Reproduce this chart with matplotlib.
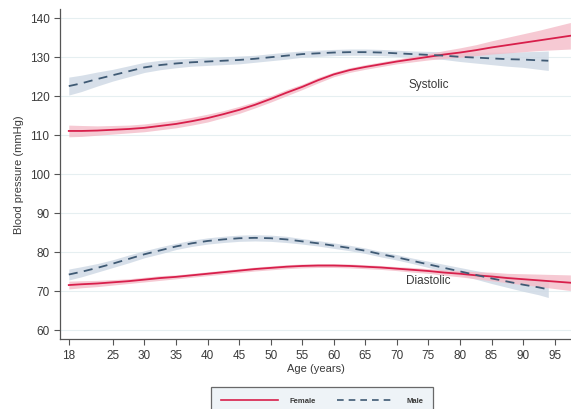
import matplotlib.pyplot as plt
from matplotlib.lines import Line2D

plt.rcParams['font.family'] = ['Liberation Sans', 'DejaVu Sans']

# ages for the smoothed curves (female curves run to the axis edge, male stop at 94)
age_f = [18, 20, 22.5, 25, 27.5, 30, 32.5, 35, 37.5, 40, 42.5, 45, 47.5, 50, 52.5, 55,
         57.5, 60, 62.5, 65, 67.5, 70, 72.5, 75, 77.5, 80, 82.5, 85, 87.5, 90, 92.5, 95, 97.5]
age_m = [18, 20, 22.5, 25, 27.5, 30, 32.5, 35, 37.5, 40, 42.5, 45, 47.5, 50, 52.5, 55,
         57.5, 60, 62.5, 65, 67.5, 70, 72.5, 75, 77.5, 80, 82.5, 85, 87.5, 90, 92.5, 94]

# systolic
sys_f = [111.0, 111.0, 111.1, 111.3, 111.5, 111.8, 112.3, 112.8, 113.5, 114.3, 115.3,
         116.4, 117.7, 119.2, 120.8, 122.3, 124.0, 125.5, 126.6, 127.4, 128.1, 128.8,
         129.4, 130.0, 130.6, 131.1, 131.7, 132.4, 133.0, 133.6, 134.2, 134.8, 135.4]
sys_f_ci = [1.5, 1.4, 1.2, 1.1, 1.0, 1.0, 1.0, 1.0, 1.0, 1.0, 0.9, 0.9, 0.8, 0.8, 0.8, 0.7,
            0.7, 0.6, 0.6, 0.6, 0.6, 0.6, 0.7, 0.8, 1.0, 1.2, 1.4, 1.7, 2.0, 2.3, 2.6, 3.0, 3.4]
sys_m = [122.5, 123.2, 124.3, 125.3, 126.3, 127.3, 127.9, 128.3, 128.6, 128.8, 129.0,
         129.2, 129.5, 129.9, 130.3, 130.7, 130.9, 131.1, 131.2, 131.2, 131.1, 130.9,
         130.7, 130.5, 130.3, 130.0, 129.8, 129.6, 129.4, 129.3, 129.1, 129.0]
sys_m_ci = [2.3, 2.1, 1.8, 1.5, 1.4, 1.3, 1.2, 1.1, 1.0, 1.0, 1.0, 1.0, 0.9, 0.9, 0.9, 0.8,
            0.8, 0.8, 0.8, 0.8, 0.8, 0.8, 0.8, 0.9, 1.0, 1.2, 1.4, 1.6, 1.8, 2.0, 2.3, 2.5]

# diastolic
dia_f = [71.5, 71.7, 71.9, 72.2, 72.5, 72.9, 73.3, 73.6, 74.0, 74.4, 74.8, 75.2, 75.6,
         75.9, 76.2, 76.4, 76.5, 76.5, 76.4, 76.2, 76.0, 75.7, 75.4, 75.1, 74.7, 74.4,
         74.0, 73.7, 73.3, 73.0, 72.7, 72.4, 72.1]
dia_f_ci = [1.0, 0.9, 0.8, 0.7, 0.6, 0.6, 0.6, 0.5, 0.5, 0.5, 0.5, 0.5, 0.5, 0.5, 0.5, 0.5,
            0.5, 0.5, 0.5, 0.5, 0.5, 0.5, 0.6, 0.6, 0.7, 0.8, 0.9, 1.1, 1.2, 1.4, 1.6, 1.8, 2.0]
dia_m = [74.2, 74.9, 75.9, 77.0, 78.2, 79.4, 80.4, 81.4, 82.2, 82.8, 83.2, 83.5, 83.6,
         83.5, 83.2, 82.7, 82.2, 81.6, 81.0, 80.3, 79.4, 78.6, 77.7, 76.8, 75.9, 75.0,
         74.1, 73.2, 72.4, 71.6, 70.9, 70.4]
dia_m_ci = [1.4, 1.3, 1.1, 1.0, 1.0, 0.9, 0.9, 0.8, 0.8, 0.8, 0.8, 0.8, 0.8, 0.8, 0.8, 0.7,
            0.7, 0.7, 0.7, 0.7, 0.7, 0.7, 0.7, 0.8, 0.9, 1.0, 1.1, 1.3, 1.5, 1.7, 1.9, 2.1]

x_ticks = [18, 25, 30, 35, 40, 45, 50, 55, 60, 65, 70, 75, 80, 85, 90, 95]
y_ticks = [60, 70, 80, 90, 100, 110, 120, 130, 140]

red = '#d81f4b'
red_band = '#f4bcc8'
blue = '#3f5a74'
blue_band = '#cdd8e4'
txt = '#3a3a3a'


def band(ax, x, y, ci, color):
    lo = [v - c for v, c in zip(y, ci)]
    hi = [v + c for v, c in zip(y, ci)]
    ax.fill_between(x, lo, hi, color=color, alpha=0.8, lw=0, zorder=2)


fig = plt.figure(figsize=(5.71, 4.10), dpi=100)
ax = fig.add_axes([0.105, 0.171, 0.895, 0.805])

band(ax, age_m, sys_m, sys_m_ci, blue_band)
band(ax, age_m, dia_m, dia_m_ci, blue_band)
band(ax, age_f, sys_f, sys_f_ci, red_band)
band(ax, age_f, dia_f, dia_f_ci, red_band)

ax.plot(age_f, sys_f, color=red, lw=1.3, zorder=3)
ax.plot(age_f, dia_f, color=red, lw=1.3, zorder=3)
ax.plot(age_m, sys_m, color=blue, lw=1.3, ls=(0, (5, 3.5)), zorder=4)
ax.plot(age_m, dia_m, color=blue, lw=1.3, ls=(0, (5, 3.5)), zorder=4)

ax.text(75, 123.1, 'Systolic', fontsize=8.5, color=txt, ha='center', va='center')
ax.text(75, 72.8, 'Diastolic', fontsize=8.5, color=txt, ha='center', va='center')

ax.set_xlim(16.6, 97.6)
ax.set_ylim(57.7, 142.3)
ax.set_xticks(x_ticks)
ax.set_yticks(y_ticks)
ax.tick_params(direction='out', length=4, width=0.8, colors='#555555',
               labelcolor=txt, labelsize=8.5)
ax.grid(axis='y', color='#e6eff1', lw=0.8)
ax.set_axisbelow(True)
for s in ['top', 'right']:
    ax.spines[s].set_visible(False)
for s in ['left', 'bottom']:
    ax.spines[s].set_color('#555555')
    ax.spines[s].set_linewidth(0.9)

ax.set_xlabel('Age (years)', fontsize=8, color=txt, labelpad=1)
ax.set_ylabel('Blood pressure (mmHg)', fontsize=8, color=txt, labelpad=4)

handles = [Line2D([], [], color=red, lw=1.2),
           Line2D([], [], color=blue, lw=1.2, ls=(0, (4, 3)))]
leg = fig.legend(handles, ['Female', 'Male'], loc='upper center',
                 bbox_to_anchor=(0.564, 0.063), ncol=2, fontsize=5.5,
                 handlelength=7.5, columnspacing=2.8, handletextpad=1.5,
                 frameon=True, fancybox=False, borderpad=1.3)
leg.get_frame().set_facecolor('#eaf0f5')
leg.get_frame().set_edgecolor('#444444')
leg.get_frame().set_linewidth(0.9)
for t in leg.get_texts():
    t.set_color(txt)
    t.set_fontweight('bold')

fig.savefig('out.png', dpi=100)
